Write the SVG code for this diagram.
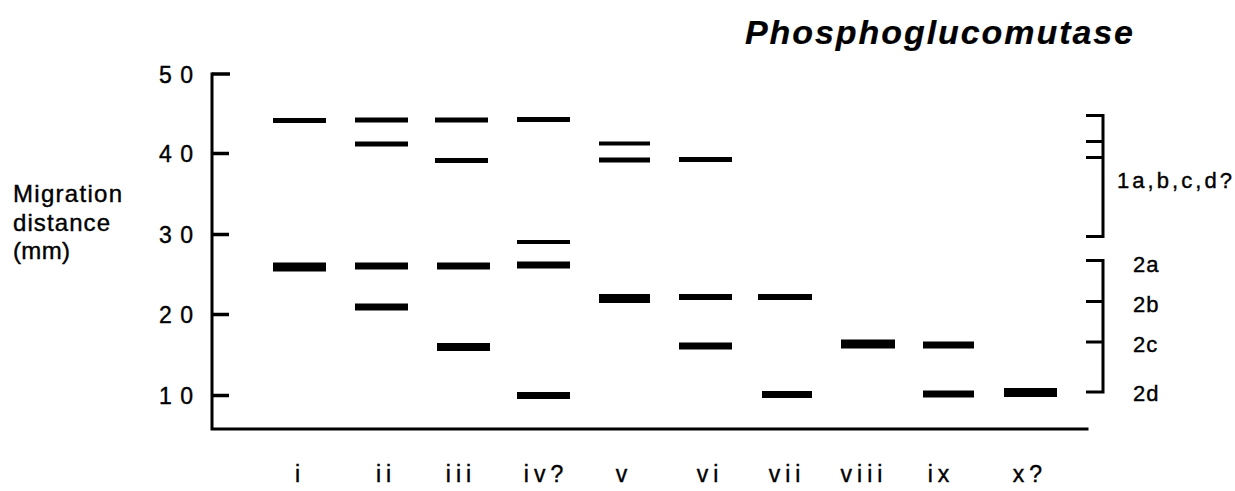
<svg xmlns="http://www.w3.org/2000/svg" width="1235" height="491" viewBox="0 0 1235 491">
  <style>
    .txt { font-family: "Liberation Sans", Arial, sans-serif; fill: #000; stroke: #000; stroke-width: 0.4; }
    .title { font-size: 34px; font-weight: bold; font-style: italic; stroke-width: 0.2; }
    .num { font-size: 23px; }
    .loc { font-size: 22px; }
    .lab { font-size: 24px; }
    .lane { font-size: 23px; text-anchor: middle; letter-spacing: 5px; }
    .ax { stroke: #000; stroke-width: 3; fill: none; stroke-linecap: square; }
    .tk { stroke: #000; stroke-width: 3.5; fill: none; }
    .br { stroke: #000; stroke-width: 3; fill: none; }
    .band { fill: #000; }
  </style>

  <!-- title -->
  <text class="txt title" x="745" y="44" textLength="388" lengthAdjust="spacing">Phosphoglucomutase</text>

  <!-- y-axis caption -->
  <g id="axis-caption">
    <text class="txt lab" x="13" y="202" textLength="109" lengthAdjust="spacing">Migration</text>
    <text class="txt lab" x="13" y="231" textLength="97" lengthAdjust="spacing">distance</text>
    <text class="txt lab" x="13" y="259" textLength="57" lengthAdjust="spacing">(mm)</text>
  </g>

  <!-- axes with ticks every 10 mm -->
  <g id="axes">
    <path class="ax" d="M212,74 V429 H1087"/>
    <path class="tk" d="M212,74 H230 M212,153.5 H229 M212,234.5 H229 M212,314.5 H229 M212,395.5 H229"/>
    <text class="txt num" x="159" y="83" textLength="34" lengthAdjust="spacing">50</text>
    <text class="txt num" x="159" y="162" textLength="34" lengthAdjust="spacing">40</text>
    <text class="txt num" x="159" y="243" textLength="34" lengthAdjust="spacing">30</text>
    <text class="txt num" x="159" y="323" textLength="34" lengthAdjust="spacing">20</text>
    <text class="txt num" x="159" y="404" textLength="34" lengthAdjust="spacing">10</text>
  </g>

  <!-- bands, one group per lane -->
  <g id="lane-i">
    <rect class="band" x="273" y="118" width="53" height="5"/>
    <rect class="band" x="273" y="262.5" width="53" height="9"/>
    <text class="txt lane" x="300" y="482">i</text>
  </g>
  <g id="lane-ii">
    <rect class="band" x="355" y="117.5" width="53" height="5"/>
    <rect class="band" x="355" y="141.5" width="53" height="5"/>
    <rect class="band" x="355" y="262.5" width="53" height="7"/>
    <rect class="band" x="355" y="303.5" width="53" height="7"/>
    <text class="txt lane" x="386" y="482">ii</text>
  </g>
  <g id="lane-iii">
    <rect class="band" x="435" y="117.5" width="53" height="5"/>
    <rect class="band" x="435" y="158" width="53" height="5"/>
    <rect class="band" x="437" y="262.5" width="53" height="7"/>
    <rect class="band" x="437" y="343" width="53" height="8"/>
    <text class="txt lane" x="461" y="482">iii</text>
  </g>
  <g id="lane-iv">
    <rect class="band" x="517" y="117" width="53" height="5"/>
    <rect class="band" x="517" y="240" width="53" height="4"/>
    <rect class="band" x="517" y="261.5" width="53" height="7"/>
    <rect class="band" x="517" y="392" width="53" height="7"/>
    <text class="txt lane" x="546" y="482">iv?</text>
  </g>
  <g id="lane-v">
    <rect class="band" x="599" y="141.5" width="51" height="4"/>
    <rect class="band" x="599" y="157.5" width="51" height="5"/>
    <rect class="band" x="599" y="294" width="51" height="9"/>
    <text class="txt lane" x="624" y="482">v</text>
  </g>
  <g id="lane-vi">
    <rect class="band" x="679" y="157" width="53" height="5"/>
    <rect class="band" x="679" y="294" width="53" height="6"/>
    <rect class="band" x="679" y="342.5" width="53" height="7"/>
    <text class="txt lane" x="710" y="482">vi</text>
  </g>
  <g id="lane-vii">
    <rect class="band" x="758" y="294" width="54" height="6"/>
    <rect class="band" x="762" y="391" width="50" height="7"/>
    <text class="txt lane" x="787" y="482">vii</text>
  </g>
  <g id="lane-viii">
    <rect class="band" x="841" y="339.5" width="54" height="9"/>
    <text class="txt lane" x="864" y="482">viii</text>
  </g>
  <g id="lane-ix">
    <rect class="band" x="923" y="341.5" width="51" height="7"/>
    <rect class="band" x="923" y="390.5" width="51" height="7"/>
    <text class="txt lane" x="941" y="482">ix</text>
  </g>
  <g id="lane-x">
    <rect class="band" x="1004" y="388" width="53" height="9"/>
    <text class="txt lane" x="1030" y="482">x?</text>
  </g>

  <!-- locus brackets -->
  <g id="locus-1">
    <path class="br" d="M1086,115.5 H1103 V236.5 H1086 M1086,141.5 H1103 M1086,157.5 H1103"/>
    <text class="txt loc" x="1117" y="188" textLength="115" lengthAdjust="spacing">1a,b,c,d?</text>
  </g>
  <g id="locus-2">
    <path class="br" d="M1086,260.5 H1103 V392 H1086 M1086,301.5 H1103 M1086,342 H1103"/>
    <text class="txt loc" x="1133" y="272" letter-spacing="1">2a</text>
    <text class="txt loc" x="1133" y="312" letter-spacing="1">2b</text>
    <text class="txt loc" x="1133" y="352" letter-spacing="1">2c</text>
    <text class="txt loc" x="1133" y="401" letter-spacing="1">2d</text>
  </g>
</svg>
